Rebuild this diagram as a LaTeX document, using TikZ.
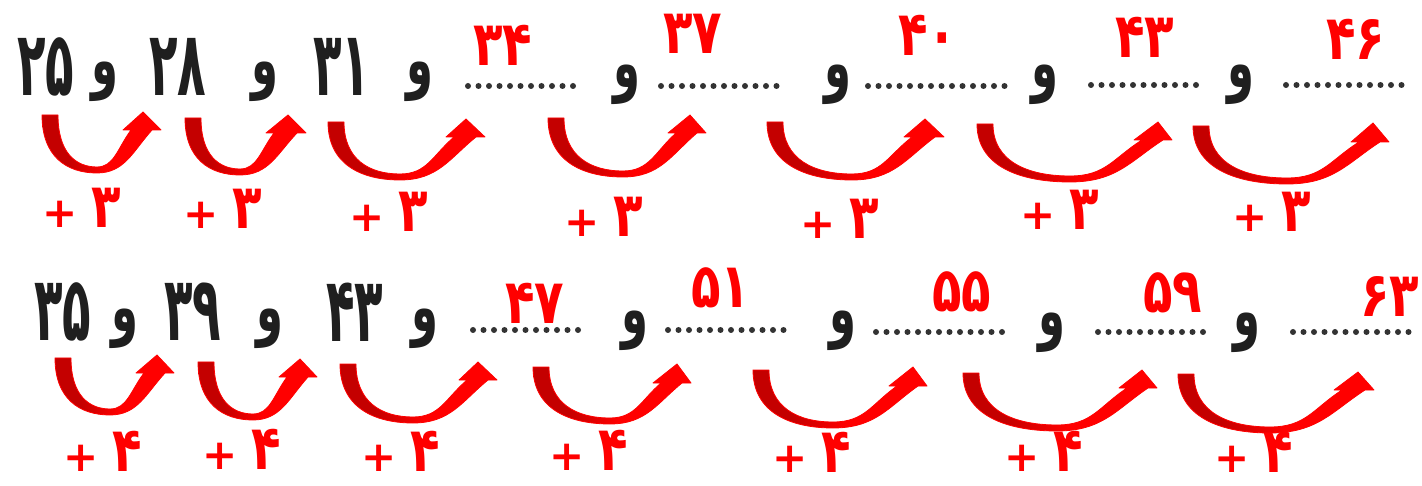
\documentclass[tikz,border=0pt]{standalone}
\usepackage{fontspec}
\usepackage{graphicx}
\newfontfamily\fa[Script=Arabic]{DejaVu Sans}
\definecolor{dred}{RGB}{196,0,0}
\definecolor{ared}{RGB}{255,0,0}
\pgfdeclarehorizontalshading{crsh}{100bp}{color(0bp)=(dred); color(36bp)=(dred); color(52bp)=(ared); color(100bp)=(ared)}
\newcommand\bn[1]{\scalebox{0.52}[1]{#1}}
\newcommand\bw{\scalebox{0.62}[1]{و}}
\newcommand\rn[1]{\scalebox{0.78}[1]{#1}}
\newcommand\lab[1]{{\fontsize{42}{42}\selectfont +}\hspace{14pt}\scalebox{0.78}[1]{#1}}
\newcommand\crarrow[9]{%
 \pgfmathsetmacro\crox{#6-5}%
 \pgfmathsetmacro\crix{#5+4}%
 \pgfmathsetmacro\criL{#1+16}%
 \pgfmathsetmacro\criB{#4-6}%
 \path[crescent] (#1,#2) .. controls (#1,{#2+0.72*(#4-#2)}) and ({#1+0.45*(#3-#1)},#4) .. (#3,#4)
  .. controls ({#3+0.5*(\crox-#3)},#4) and ({\crox-0.35*(\crox-#3)},{#7+0.5*(#4-#7)}) .. (\crox,#7)
  -- ({#6+4},#7) -- (#8,{#9-3}) -- ({#5-4},#7) -- (\crix,#7)
  .. controls ({\crix-0.4*(\crix-#3)},{#7+0.5*(\criB-#7)}) and ({#3+0.5*(\crix-#3)},\criB) .. (#3,\criB)
  .. controls ({#3-0.55*(#3-\criL)},\criB) and (\criL,{#2+0.72*(\criB-#2)}) .. (\criL,#2) -- cycle;
}
\begin{document}
\begin{tikzpicture}[x=1pt,y=-1pt,
 bnum/.style={inner sep=0pt, text=black!88, font=\fa\bfseries\fontsize{90}{90}\selectfont},
 waw/.style={inner sep=0pt, text=black!88, font=\fa\bfseries\fontsize{70}{70}\selectfont},
 ans/.style={inner sep=0pt, text=ared, font=\fa\bfseries\fontsize{62}{62}\selectfont},
 plus/.style={inner sep=0pt, text=ared, font=\fa\bfseries\fontsize{62}{62}\selectfont},
 dotline/.style={line width=6pt, line cap=round, dash pattern=on 0pt off 10.5pt, black!80},
 crescent/.style={shade, shading=crsh, draw=ared, line width=0.8pt, line join=round}]
\useasboundingbox (0,0) rectangle (1422,486);
\fill[white] (0,0) rectangle (1422,486);
% ---------- row 1 ----------
\node[bnum] (p1) at (46,67) {\bn{۲۵}};
\node[waw] (w1) at (105,82) {\bw};
\node[bnum] (p2) at (178,67) {\bn{۲۸}};
\node[waw] (w2) at (265,82) {\bw};
\node[bnum] (p3) at (342,67) {\bn{۳۱}};
\node[waw] (w3) at (420,82) {\bw};
\coordinate (d1a) at (468,86); \coordinate (d1b) at (576,86);
\draw[dotline] (d1a) -- (d1b);
\node[waw] (w4) at (627,85) {\bw};
\coordinate (d2a) at (661,86); \coordinate (d2b) at (783,86);
\draw[dotline] (d2a) -- (d2b);
\node[waw] (w5) at (838,85) {\bw};
\coordinate (d3a) at (868,86); \coordinate (d3b) at (1006,86);
\draw[dotline] (d3a) -- (d3b);
\node[waw] (w6) at (1045,85) {\bw};
\coordinate (d4a) at (1091,85); \coordinate (d4b) at (1201,85);
\draw[dotline] (d4a) -- (d4b);
\node[waw] (w7) at (1241,85) {\bw};
\coordinate (d5a) at (1286,85); \coordinate (d5b) at (1411,85);
\draw[dotline] (d5a) -- (d5b);
\node[ans] (q1) at (503,45) {\rn{۳۴}};
\node[ans] (q2) at (693,34) {\rn{۳۷}};
\node[ans] (q3) at (928,35) {\rn{۴۰}};
\node[ans] (q4) at (1145,37) {\rn{۴۳}};
\node[ans] (q5) at (1356,39) {\rn{۴۶}};
\crarrow{42}{115}{97}{173}{127}{157}{130}{143}{115}
\crarrow{185}{118}{240}{175}{270}{302}{133}{288}{118}
\crarrow{328}{122}{400}{180}{450}{481}{137}{466}{122}
\crarrow{548}{118}{623}{177}{672}{702}{133}{690}{118}
\crarrow{767}{122}{852}{180}{908}{940}{137}{925}{122}
\crarrow{977}{124}{1070}{182}{1138}{1168}{140}{1158}{125}
\crarrow{1193}{126}{1287}{184}{1355}{1385}{142}{1373}{126}
\node[plus] (l1) at (82,208) {\lab{۳}};
\node[plus] (l2) at (223,209) {\lab{۳}};
\node[plus] (l3) at (389,212) {\lab{۳}};
\node[plus] (l4) at (604,217) {\lab{۳}};
\node[plus] (l5) at (840,219) {\lab{۳}};
\node[plus] (l6) at (1060,210) {\lab{۳}};
\node[plus] (l7) at (1272,212) {\lab{۳}};
% ---------- row 2 ----------
\node[bnum] (p4) at (63,312) {\bn{۳۵}};
\node[waw] (w8) at (125,329) {\bw};
\node[bnum] (p5) at (193,312) {\bn{۳۹}};
\node[waw] (w9) at (270,329) {\bw};
\node[bnum] (p6) at (355,312) {\bn{۴۳}};
\node[waw] (w10) at (425,329) {\bw};
\coordinate (d6a) at (473,330); \coordinate (d6b) at (581,330);
\draw[dotline] (d6a) -- (d6b);
\node[waw] (w11) at (635,331) {\bw};
\coordinate (d7a) at (668,330); \coordinate (d7b) at (790,330);
\draw[dotline] (d7a) -- (d7b);
\node[waw] (w12) at (843,331) {\bw};
\coordinate (d8a) at (876,332); \coordinate (d8b) at (1011,332);
\draw[dotline] (d8a) -- (d8b);
\node[waw] (w13) at (1052,333) {\bw};
\coordinate (d9a) at (1098,332); \coordinate (d9b) at (1206,332);
\draw[dotline] (d9a) -- (d9b);
\node[waw] (w14) at (1247,333) {\bw};
\coordinate (d10a) at (1293,332); \coordinate (d10b) at (1415,332);
\draw[dotline] (d10a) -- (d10b);
\node[ans] (q6) at (535,303) {\rn{۴۷}};
\node[ans] (q7) at (721,288) {\rn{۵۱}};
\node[ans] (q8) at (962,292) {\rn{۵۵}};
\node[ans] (q9) at (1173,293) {\rn{۵۹}};
\node[ans] (q10) at (1390,296) {\rn{۶۳}};
\crarrow{55}{358}{110}{415}{140}{170}{373}{157}{358}
\crarrow{198}{362}{253}{420}{283}{313}{377}{300}{362}
\crarrow{340}{364}{413}{423}{463}{493}{380}{478}{365}
\crarrow{533}{367}{610}{424}{657}{687}{383}{677}{367}
\crarrow{753}{370}{833}{428}{893}{923}{386}{913}{370}
\crarrow{963}{373}{1057}{431}{1123}{1153}{388}{1142}{373}
\crarrow{1178}{374}{1270}{433}{1338}{1370}{390}{1358}{375}
\node[plus] (m1) at (103,451) {\lab{۴}};
\node[plus] (m2) at (242,449) {\lab{۴}};
\node[plus] (m3) at (401,451) {\lab{۴}};
\node[plus] (m4) at (589,450) {\lab{۴}};
\node[plus] (m5) at (812,452) {\lab{۴}};
\node[plus] (m6) at (1044,451) {\lab{۴}};
\node[plus] (m7) at (1254,452) {\lab{۴}};
\end{tikzpicture}
\end{document}
